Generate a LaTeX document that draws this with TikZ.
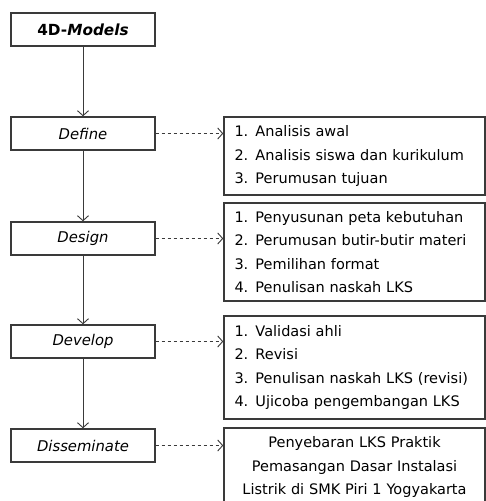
\documentclass[tikz,border=0pt]{standalone}
\usepackage{fontspec}
\setmainfont{DejaVu Sans}
\usetikzlibrary{arrows.meta}
\definecolor{edge}{HTML}{3A3A3A}
\newcommand{\itm}[1]{\makebox[21pt][l]{#1.}}
\tikzstyle{stage}=[rectangle,draw=edge,line width=1.4pt,minimum width=144pt,minimum height=33pt,inner sep=0pt,font=\fontsize{14.8}{16}\selectfont\itshape]
\tikzstyle{task}=[rectangle,draw=edge,line width=1.4pt,minimum width=261pt,text width=240pt,inner sep=0pt,align=left,font=\fontsize{14.5}{23.5}\selectfont]
\tikzstyle{flow}=[-{Straight Barb[length=5pt,width=11pt]},draw=edge,line width=0.9pt]
\tikzstyle{link}=[-{Straight Barb[length=5pt,width=11pt]},draw=edge,line width=0.9pt,dash pattern=on 3.5pt off 2.5pt]

\begin{document}
\begin{tikzpicture}[x=1pt,y=-1pt]
                    \useasboundingbox (0,0) rectangle (486,501);
                    \node (model) at (83,29.5) [stage,font=\fontsize{15.3}{16}\selectfont\bfseries] {4D-\textit{Models}};
                    \node (define) at (83,133.5) [stage] {Define};
                    \node (design) at (83,238.5) [stage] {Design};
                    \node (develop) at (83,341.5) [stage] {Develop};
                    \node (dissem) at (83,445.5) [stage] {Disseminate};

                    \node (act1) at (354.5,156) [task,minimum height=78pt] {\itm1Analisis awal\\\itm2Analisis siswa dan kurikulum\\\itm3Perumusan tujuan};
                    \node (act2) at (354.5,252) [task,minimum height=98pt] {\itm1Penyusunan peta kebutuhan\\\itm2Perumusan butir-butir materi\\\itm3Pemilihan format\\\itm4Penulisan naskah LKS};
                    \node (act3) at (354.5,367.5) [task,minimum height=103pt] {\itm1Validasi ahli\\\itm2Revisi\\\itm3Penulisan naskah LKS (revisi)\\\itm4Ujicoba pengembangan LKS};
                    \node (act4) at (354.5,467) [task,minimum height=78pt,align=center] {Penyebaran LKS Praktik\\Pemasangan Dasar Instalasi\\Listrik di SMK Piri 1 Yogyakarta};

                    \draw [flow] (model) -- (define);
                    \draw [flow] (define) -- (design);
                    \draw [flow] (design) -- (develop);
                    \draw [flow] (develop) -- (dissem);

                    \draw [link] (define) -- (define -| act1.west);
                    \draw [link] (design) -- (design -| act2.west);
                    \draw [link] (develop) -- (develop -| act3.west);
                    \draw [link] (dissem) -- (dissem -| act4.west);
                \end{tikzpicture}
\end{document}
